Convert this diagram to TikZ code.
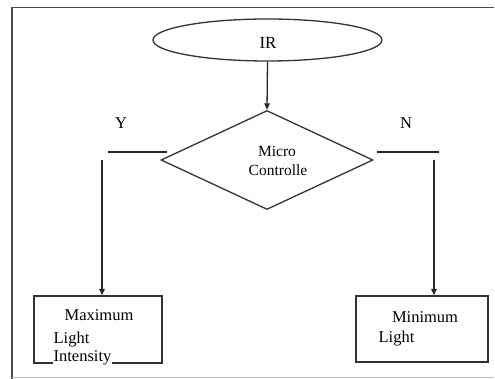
\documentclass[tikz,border=0pt]{standalone}
\usepackage{fontspec}
\setmainfont{Liberation Serif}
\usetikzlibrary{shapes.geometric,arrows.meta}
\begin{document}
\begin{tikzpicture}[x=1pt,y=-1pt,
  line width=1.3pt,
  flow/.style={draw=black!85,-{Triangle[length=6.5pt,width=5.5pt]}},
  wire/.style={draw=black!85},
  outline/.style={draw=black!80, inner sep=0pt},
  txt/.style={inner sep=0pt, font=\fontsize{16.5}{19}\selectfont, text=black},
  smalltxt/.style={inner sep=0pt, font=\fontsize{15.5}{18}\selectfont, text=black},
  bigtxt/.style={inner sep=0pt, font=\fontsize{17}{20}\selectfont, text=black}]
  \useasboundingbox (0,0) rectangle (495,379);
  % page frame
  \draw[black!70, line width=1.5pt] (12,379) -- (12,7.5) -- (494,7.5);
  \draw[black!25, line width=1pt] (12,377.5) -- (494,377.5);

  % start: IR sensor
  \node[outline, ellipse, minimum width=229pt, minimum height=42pt] (ir) at (267.5,40) {};
  \node[bigtxt, anchor=base] (irtext) at (268,48.5) {IR};

  % decision
  \node[outline, diamond, minimum width=212pt, minimum height=99pt] (mc) at (267,160) {};
  \node[smalltxt, anchor=base] (mctext1) at (277,156.5) {Micro};
  \node[smalltxt, anchor=base] (mctext2) at (278,176) {Controlle};

  \draw[flow] (ir.south) -- (mc.north);

  % branch labels and stubs
  \node[txt, anchor=base] (ylab) at (121,129) {Y};
  \node[txt, anchor=base] (nlab) at (406,129) {N};
  \coordinate (ya) at (108,152);
  \coordinate (yb) at (167,152);
  \coordinate (na) at (377,152);
  \coordinate (nb) at (439,152);
  \draw[wire] (ya) -- (yb);
  \draw[wire] (na) -- (nb);
  \coordinate (ytop) at (102,160);
  \coordinate (ntop) at (434,160);

  % outcomes
  \node[outline, rectangle, minimum width=128pt, minimum height=67pt] (maxbox) at (98,329.5) {};
  \node[outline, rectangle, minimum width=132pt, minimum height=66pt] (minbox) at (422,329) {};

  \draw[flow] (ytop) -- (ytop |- maxbox.north);
  \draw[flow] (ntop) -- (ntop |- minbox.north);

  \node[txt, anchor=base] (maxt1) at (99,320.5) {Maximum};
  \node[txt, anchor=base west] (maxt2) at (53,343) {Light};
  \node[txt, anchor=base west, fill=white, inner xsep=1pt, inner ysep=0pt] (maxt3) at (52,361.5) {Intensity};

  \node[txt, anchor=base] (mint1) at (425,322.5) {Minimum};
  \node[txt, anchor=base west] (mint2) at (378,342.5) {Light};
\end{tikzpicture}
\end{document}
